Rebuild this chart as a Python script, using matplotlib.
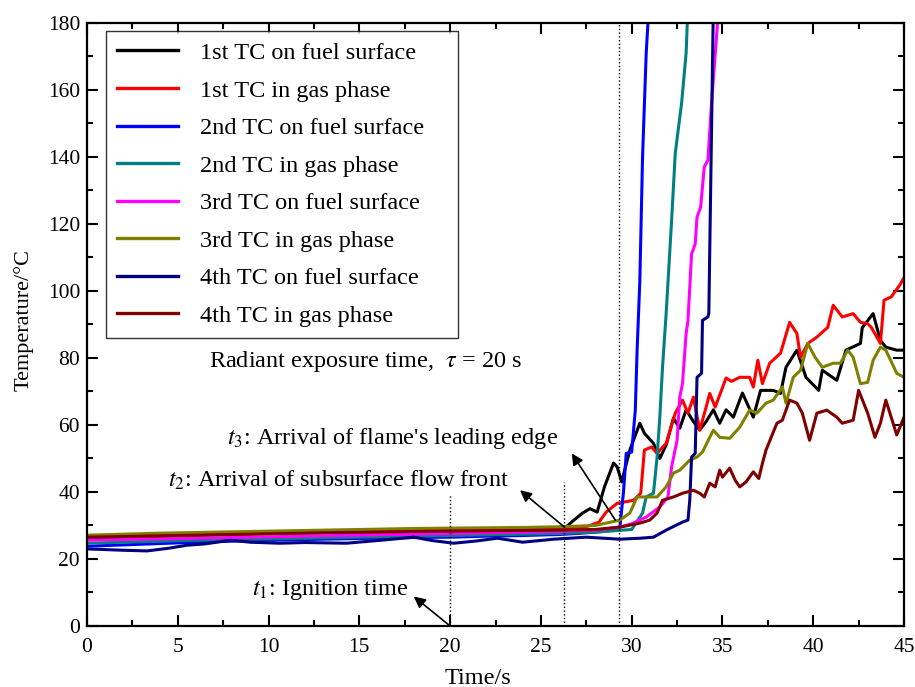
"""Thermocouple temperature histories, radiant exposure tau = 20 s."""

import matplotlib
matplotlib.use("Agg")
import matplotlib.pyplot as plt
from matplotlib.ticker import MultipleLocator

plt.rcParams["font.family"] = ["Liberation Serif", "DejaVu Serif"]
plt.rcParams["mathtext.fontset"] = "stix"

# ── Data ────────────────────────────────────────────────────────────────
FLAT_T = [0, 2, 4, 6, 8, 10, 12, 14, 16, 18, 20, 22, 24, 26]

tc1_surf_t = FLAT_T[:-1] + [25, 26, 26.4, 26.8, 27.3, 27.7, 28.1, 28.5, 29.0, 29.2, 29.45,
                            29.9, 30.45, 30.7, 31.2, 31.55, 31.9, 32.3, 32.65, 33.0, 33.4,
                            33.75, 34.1, 34.5, 34.85, 35.2, 35.6, 36.1, 36.7, 37.1, 37.8,
                            38.2, 38.5, 39.1, 39.6, 40.3, 40.5, 41.3, 41.8, 42.6, 42.7,
                            43.3, 43.7, 44.0, 44.6, 45.0]
tc1_surf_v = [26.0, 26.4, 26.8, 27.1, 27.4, 27.7, 28.0, 28.2, 28.4, 28.6, 28.8, 29.0, 29.2,
              29.3, 29.4, 29.6, 31.5, 33.7, 35.0, 34.0, 41.5, 48.6, 47.5, 43.0,
              52.5, 60.5, 57.5, 54.5, 50.0, 54.0, 62.0, 59.0, 64.5, 61.0,
              58.5, 61.0, 64.5, 60.5, 64.5, 62.3, 69.5, 62.3, 70.3, 70.3,
              69.4, 77.2, 82.3, 74.2, 70.3, 76.3, 73.3, 82.3, 84.3, 89.0,
              93.2, 85.2, 83.2, 82.3, 82.3]

tc1_gas_t = FLAT_T + [27, 27.6, 28.2, 28.6, 29.2, 30.1, 30.5, 30.7, 31.1, 31.4, 31.9, 32.4,
                      32.8, 33.1, 33.4, 33.75, 34.1, 34.3, 34.6, 35.2, 35.5, 35.95, 36.5,
                      36.7, 36.95, 37.2, 37.6, 38.2, 38.7, 39.1, 39.3, 39.7, 40.2, 40.8,
                      41.1, 41.6, 42.2, 42.6, 43.0, 43.2, 43.7, 43.9, 44.3, 44.8, 45.0]
tc1_gas_v = [26.5, 26.8, 27.0, 27.2, 27.4, 27.6, 27.8, 28.0, 28.2, 28.4, 28.5, 28.7, 28.9,
             29.0, 29.2, 29.8, 31.0, 34.0, 36.6, 37.5, 39.6, 52.5, 53.4, 51.5, 54.5, 63.5,
             67.4, 63.5, 68.3, 58.4, 65.3, 69.4, 65.3, 74.0, 73.0, 74.2, 74.2,
             71.3, 79.3, 72.3, 78.4, 81.4, 90.6, 87.3, 80.2, 84.3, 86.2, 89.1,
             95.7, 92.2, 93.2, 90.6, 90.2, 89.1, 84.3, 97.2, 98.2, 102.0, 104.0]

tc2_surf_t = FLAT_T + [27, 28, 29, 29.35, 29.55, 29.7, 30.0, 30.2, 30.3, 30.45, 30.6, 30.8, 30.95]
tc2_surf_v = [23.8, 24.2, 24.6, 25.0, 25.3, 25.6, 25.8, 26.0, 26.2, 26.4, 26.5, 26.8, 27.0,
              27.3, 27.6, 28.0, 28.6, 29.5, 40.0, 51.5, 51.9, 64.4, 82.3, 103.0, 140.0,
              170.8, 185.0]

tc2_gas_t = FLAT_T + [28, 29, 29.5, 30, 30.6, 30.8, 31.2, 31.4, 31.55, 31.7, 31.9, 32.2,
                      32.4, 32.75, 33.0, 33.1]
tc2_gas_v = [24.7, 25.0, 25.3, 25.6, 25.8, 26.0, 26.2, 26.4, 26.6, 26.8, 27.0, 27.2, 27.4,
             27.6, 28.0, 28.4, 28.6, 28.8, 33.7, 38.5, 39.6, 50.4, 62.3, 77.2, 93.3, 121.0,
             141.0, 156.0, 171.0, 185.0]

tc3_surf_t = FLAT_T + [28, 29.35, 30, 30.8, 31.55, 32.0, 32.2, 32.5, 32.65, 32.8, 33.0,
                       33.1, 33.3, 33.5, 33.6, 33.8, 34.0, 34.2, 34.4, 34.8]
tc3_surf_v = [25.6, 25.8, 26.0, 26.2, 26.4, 26.6, 26.8, 27.0, 27.2, 27.4, 27.6, 27.8, 28.0,
              28.2, 28.6, 29.5, 30.5, 32.5, 35.5, 38.5, 47.5, 55.4, 68.3, 72.3, 87.3,
              91.0, 111.0, 114.0, 122.0, 125.0, 137.0, 139.0, 156.0, 185.0]

tc3_gas_t = FLAT_T + [28, 29.35, 29.9, 30.3, 30.8, 31.4, 31.9, 32.3, 32.65, 33.2, 33.6,
                      33.9, 34.3, 34.5, 34.85, 35.4, 35.95, 36.5, 36.9, 37.4, 37.8, 38.3,
                      38.5, 38.9, 39.3, 39.7, 40.1, 40.5, 41.1, 41.5, 41.9, 42.2, 42.6,
                      43.0, 43.3, 43.7, 44.0, 44.6, 45.0]
tc3_gas_v = [27.1, 27.4, 27.7, 27.9, 28.1, 28.3, 28.5, 28.7, 28.9, 29.1, 29.2, 29.3, 29.4,
             29.6, 30.0, 31.6, 33.7, 38.5, 38.5, 38.5, 41.5, 45.6, 46.5, 49.5, 50.4,
             51.9, 56.3, 58.4, 56.3, 56.0, 59.3, 64.4, 63.5, 66.5, 67.4, 71.3,
             66.5, 74.2, 76.3, 84.3, 80.2, 77.2, 78.4, 78.4, 82.3, 80.2, 72.3,
             72.7, 79.3, 83.2, 82.3, 75.4, 74.2]

tc4_surf_t = [0, 1, 2, 3.3, 4.5, 5.5, 6.5, 7.9, 9, 10.6, 12, 14.3, 16, 18.0, 19, 20.2, 21.5,
              22.6, 24.0, 25.7, 27.5, 29.35, 30.5, 31.2, 31.9, 32.8, 33.1, 33.2, 33.3,
              33.5, 33.6, 33.85, 33.9, 34.2, 34.25, 34.5]
tc4_surf_v = [23.0, 22.8, 22.6, 22.4, 23.2, 24.1, 24.5, 25.6, 25.0, 24.7, 24.9, 24.7, 25.5,
              26.5, 25.5, 24.7, 25.4, 26.2, 25.0, 25.9, 26.5, 25.9, 26.2, 26.5, 28.6,
              31.0, 31.6, 37.5, 50.4, 51.5, 74.2, 75.4, 91.2, 92.2, 93.3, 185.0]

tc4_gas_t = FLAT_T + [28, 29.35, 30.45, 31.0, 31.4, 31.7, 32.3, 32.8, 33.4, 33.75, 34.0,
                      34.3, 34.6, 34.85, 35.0, 35.4, 35.7, 35.95, 36.3, 36.7, 37.0, 37.2,
                      37.4, 38.0, 38.3, 38.7, 39.1, 39.4, 39.8, 40.2, 40.75, 41.3, 41.6,
                      42.2, 42.5, 43.0, 43.4, 43.7, 44.0, 44.6, 45.0]
tc4_gas_v = [26.5, 26.7, 26.9, 27.1, 27.3, 27.5, 27.7, 27.9, 28.0, 28.2, 28.3, 28.4, 28.5,
             28.6, 28.8, 29.5, 30.7, 31.6, 33.7, 37.5, 38.5, 39.6, 40.5, 39.6, 38.5,
             42.6, 41.5, 46.5, 44.4, 47.1, 43.5, 41.5, 43.0, 46.0, 44.0, 48.5,
             52.5, 60.5, 61.4, 67.4, 66.5, 63.5, 55.4, 63.5, 64.4, 62.3, 60.5,
             61.4, 70.3, 63.5, 56.3, 60.5, 67.4, 57.0, 62.3]

SERIES = [
    ("1st TC on fuel surface", tc1_surf_t, tc1_surf_v, "black"),
    ("1st TC in gas phase", tc1_gas_t, tc1_gas_v, "#ff0000"),
    ("2nd TC on fuel surface", tc2_surf_t, tc2_surf_v, "#0000ff"),
    ("2nd TC in gas phase", tc2_gas_t, tc2_gas_v, "#008080"),
    ("3rd TC on fuel surface", tc3_surf_t, tc3_surf_v, "#ff00ff"),
    ("3rd TC in gas phase", tc3_gas_t, tc3_gas_v, "#808000"),
    ("4th TC on fuel surface", tc4_surf_t, tc4_surf_v, "#000080"),
    ("4th TC in gas phase", tc4_gas_t, tc4_gas_v, "#800000"),
]

# characteristic times (s) and the height of their marker lines (deg C)
T1, T2, T3 = 20.0, 26.3, 29.3
T1_TOP, T2_TOP = 39.0, 43.0


def main():
    fig = plt.figure(figsize=(9.15, 6.87), dpi=100)
    ax = fig.add_axes([87 / 915, 1 - 626 / 687, 817 / 915, 603.3 / 687])

    for label, t, v, color in SERIES:
        ax.plot(t, v, color=color, lw=2.2, label=label, solid_joinstyle="round")

    # ── Marker lines ────────────────────────────────────────────────────
    ax.plot([T1, T1], [0, T1_TOP], color="black", ls=":", lw=1.0)
    ax.plot([T2, T2], [0, T2_TOP], color="black", ls=":", lw=1.0)
    ax.axvline(T3, color="black", ls=":", lw=1.0)

    arrow = dict(arrowstyle="-|>", color="black", lw=1.2, mutation_scale=17,
                 shrinkA=0, shrinkB=0)
    ax.annotate("", xy=(18.0, 8.8), xytext=(T1, 0), arrowprops=arrow)
    ax.annotate("", xy=(23.85, 40.5), xytext=(T2, 29.5), arrowprops=arrow)
    ax.annotate("", xy=(26.7, 51.5), xytext=(29.1, 31.6), arrowprops=arrow)

    fs = 17.5
    ax.text(9.1, 10.8, r"$t_1$: Ignition time", fontsize=fs, va="center")
    ax.text(4.45, 43.6, r"$t_2$: Arrival of subsurface flow front", fontsize=fs, va="center")
    ax.text(7.7, 56.0, r"$t_3$: Arrival of flame's leading edge", fontsize=fs, va="center")
    ax.text(6.7, 79.0, r"Radiant exposure time,  $\tau$ = 20 s", fontsize=fs, va="center")

    # ── Axes ────────────────────────────────────────────────────────────
    ax.set_xlim(0, 45)
    ax.set_ylim(0, 180)
    ax.xaxis.set_major_locator(MultipleLocator(5))
    ax.xaxis.set_minor_locator(MultipleLocator(2.5))
    ax.yaxis.set_major_locator(MultipleLocator(20))
    ax.yaxis.set_minor_locator(MultipleLocator(10))
    ax.tick_params(which="both", direction="in", top=True, right=True,
                   labelsize=15.5, width=1.5)
    ax.tick_params(axis="x", pad=9)
    ax.tick_params(axis="y", pad=5)
    ax.tick_params(which="major", length=8)
    ax.tick_params(which="minor", length=4)
    for sp in ax.spines.values():
        sp.set_linewidth(1.6)

    ax.set_xlabel("Time/s", fontsize=17.5)
    ax.xaxis.set_label_coords(0.4786, -0.069)
    ax.set_ylabel("Temperature/\u00b0C", fontsize=16)
    ax.yaxis.set_label_coords(-0.066, 0.507)

    leg = ax.legend(loc="upper left", bbox_to_anchor=(0.0233, 0.4856, 0.4308, 0.5006),
                    mode="expand", borderaxespad=0, fontsize=17.5, frameon=True,
                    fancybox=False, edgecolor="black", handlelength=2.5,
                    handletextpad=0.9, labelspacing=0.64, borderpad=0.45)
    leg.get_frame().set_linewidth(1.0)
    for line in leg.get_lines():
        line.set_linewidth(2.4)

    fig.savefig("out.png", dpi=100, facecolor="white")
    plt.close(fig)


if __name__ == "__main__":
    main()
